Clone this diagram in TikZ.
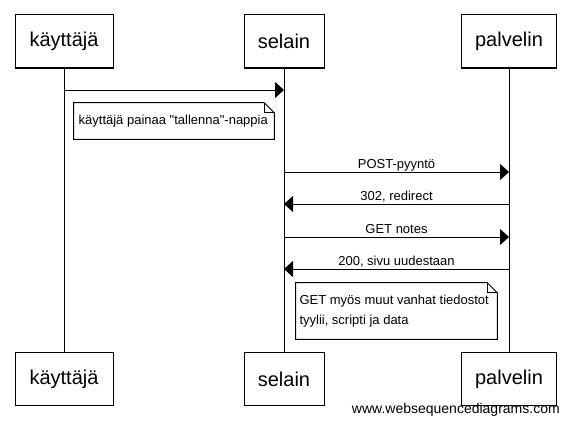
\documentclass[tikz,border=0pt]{standalone}
\usepackage{fontspec}
\setmainfont{Liberation Sans}[Ligatures=TeXOff]
\usetikzlibrary{arrows.meta}
\begin{document}
\begin{tikzpicture}[x=0.75pt,y=-0.75pt,
  actor/.style={draw, line width=0.75pt, minimum height=39.75pt, inner sep=0pt,
    font=\fontsize{15}{18}\selectfont},
  life/.style={line width=0.75pt},
  msg/.style={line width=0.75pt, -{Triangle[length=6.75pt,width=12pt]}},
  lbl/.style={anchor=base, inner sep=0pt, font=\fontsize{9.75}{11.7}\selectfont},
  notebox/.style={inner sep=0pt, font=\fontsize{9.75}{15}\selectfont, align=flush left},
  noteline/.style={line width=0.75pt, line join=miter}
]
\useasboundingbox (0,0) rectangle (570,428);

% participants (top)
\node[actor, minimum width=73.5pt]  (kt) at (64,41.5)  {käyttäjä};
\node[actor, minimum width=60pt]    (st) at (284,41.5) {selain};
\node[actor, minimum width=71.25pt] (pt) at (509,41.5) {palvelin};
% participants (bottom)
\node[actor, minimum width=73.5pt]  (kb) at (64,379)  {käyttäjä};
\node[actor, minimum width=60pt]    (sb) at (284,379) {selain};
\node[actor, minimum width=71.25pt] (pb) at (509,379) {palvelin};

% lifelines
\draw[life] (kt.south) -- (kb.north);
\draw[life] (st.south) -- (sb.north);
\draw[life] (pt.south) -- (pb.north);

% message end points on lifelines
\coordinate (k1) at (kt.south |- 0,90);
\coordinate (s1) at (st.south |- 0,90);
\coordinate (s2) at (st.south |- 0,172);
\coordinate (p2) at (pt.south |- 0,172);
\coordinate (s3) at (st.south |- 0,204);
\coordinate (p3) at (pt.south |- 0,204);
\coordinate (s4) at (st.south |- 0,237);
\coordinate (p4) at (pt.south |- 0,237);
\coordinate (s5) at (st.south |- 0,269);
\coordinate (p5) at (pt.south |- 0,269);

\draw[msg] (k1) -- (s1);
\draw[msg] (s2) -- (p2);
\draw[msg] (p3) -- (s3);
\draw[msg] (s4) -- (p4);
\draw[msg] (p5) -- (s5);

\node[lbl] (l2) at (396.5,168) {POST-pyyntö};
\node[lbl] (l3) at (396.5,200) {302, redirect};
\node[lbl] (l4) at (396.5,233) {GET notes};
\node[lbl] (l5) at (396.5,265) {200, sivu uudestaan};

% note 1
\node[notebox, minimum width=150pt, minimum height=27pt, text width=143pt]
  (n1) at (174,121) {\mbox{käyttäjä painaa "tallenna"-nappia}};
\draw[noteline] (n1.north west) -- ([xshift=-7.5pt]n1.north east)
  -- ([yshift=-7.5pt]n1.north east) -- (n1.south east) -- (n1.south west) -- cycle;
\draw[noteline] ([xshift=-7.5pt]n1.north east) |- ([yshift=-7.5pt]n1.north east);

% note 2
\node[notebox, minimum width=150.75pt, minimum height=42pt, text width=145.5pt]
  (n2) at (396.5,311) {\mbox{GET myös muut vanhat tiedostot}\\\mbox{tyylii, scripti ja data}};
\draw[noteline] (n2.north west) -- ([xshift=-7.5pt]n2.north east)
  -- ([yshift=-7.5pt]n2.north east) -- (n2.south east) -- (n2.south west) -- cycle;
\draw[noteline] ([xshift=-7.5pt]n2.north east) |- ([yshift=-7.5pt]n2.north east);

% footer
\node[anchor=base east, inner sep=0pt, font=\fontsize{10.5}{12}\selectfont]
  (wsd) at (560,413) {www.websequencediagrams.com};
\end{tikzpicture}
\end{document}
